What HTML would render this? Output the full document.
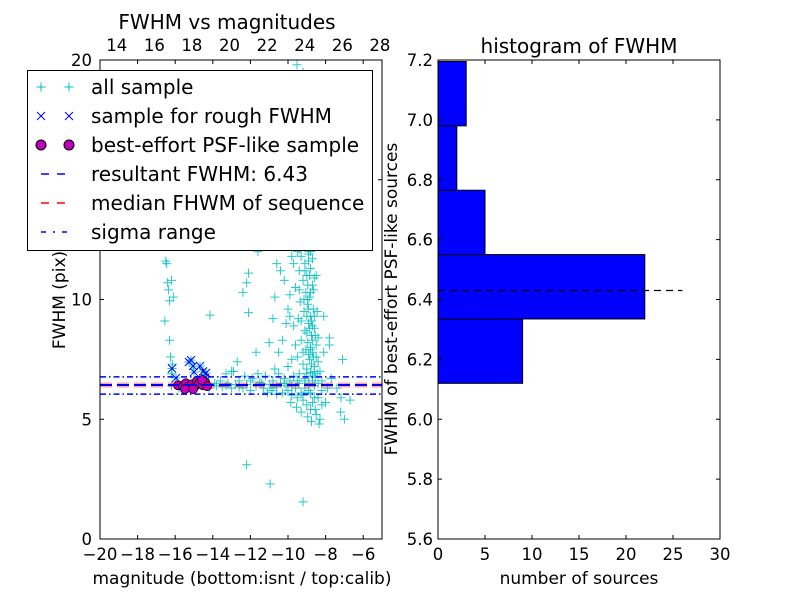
<!DOCTYPE html>
<html><head><meta charset="utf-8"><style>
body{margin:0;background:#fff}
svg{font-family:"DejaVu Sans","Liberation Sans",sans-serif}
</style></head><body>
<svg id="s" width="800" height="600" xmlns="http://www.w3.org/2000/svg"></svg>
<script>
const allSample=[[-16.2,6.4],[-15.8,6.3],[-14.2,6.3],[-13.8,6.4],[-13.5,6.35],[-13.2,6.5],[-13.0,6.3],[-12.8,6.45],[-12.6,6.6],[-12.4,6.3],[-12.2,6.45],[-12.0,6.2],[-11.9,6.7],[-11.7,6.4],[-11.5,6.55],[-11.3,6.3],[-11.2,6.8],[-11.0,6.45],[-10.9,6.2],[-10.8,6.6],[-10.6,6.35],[-10.5,6.9],[-10.4,6.5],[-10.3,6.1],[-10.2,6.7],[-10.1,6.4],[-10.0,6.2],[-9.9,6.6],[-9.8,6.0],[-9.7,6.8],[-9.6,6.3],[-9.5,5.9],[-9.4,6.5],[-9.3,6.1],[-9.2,5.8],[-9.1,6.6],[-9.0,5.6],[-8.9,6.2],[-8.8,5.4],[-8.7,6.8],[-8.6,5.9],[-8.5,5.2],[-8.4,6.5],[-8.3,5.0],[-8.2,6.2],[-8.0,5.7],[-7.9,6.3],[-7.7,6.7],[-7.4,6.3],[-7.0,5.0],[-6.7,5.8],[-7.2,5.3],[-11.6,6.9],[-12.9,7.0],[-10.7,7.1],[-13.6,6.6],[-12.3,6.8],[-11.1,6.1],[-10.6,6.05],[-9.85,5.7],[-9.55,5.5],[-9.3,5.3],[-8.95,5.1],[-8.75,4.9],[-8.55,5.4],[-8.35,4.8],[-8.2,5.6],
[-12.2,3.1],[-10.95,2.3],[-9.2,1.55],[-7.18,5.9],[-7.8,8.1],[-7.1,7.5],
[-16.45,11.5],[-16.4,10.7],[-16.35,10.4],[-16.3,9.95],[-16.1,10.1],[-16.55,9.1],[-16.3,8.3],[-16.25,7.6],[-16.15,7.3],[-16.2,6.9],[-16.5,11.6],[-16.2,10.8],
[-14.15,9.35],[-12.1,9.45],[-12.2,10.7],[-12.4,10.3],[-12.1,11.1],[-11.7,7.8],[-13.0,7.0],[-13.3,6.9],[-12.7,7.4],[-10.5,7.8],[-10.3,8.3],[-10.1,9.0],[-10.0,9.6],[-9.9,10.2],[-10.2,10.8],[-10.4,11.2],[-10.6,11.5],[-9.8,11.8],[-11.0,8.2],[-10.8,9.2],[-10.7,10.1],
[-9.5,12.0],[-9.3,11.8],[-9.1,11.5],[-8.9,11.9],[-9.4,11.2],[-9.0,11.0],[-8.8,11.3],[-9.2,10.8],[-8.7,10.6],[-9.6,10.5],[-9.05,10.3],[-8.85,10.1],[-9.35,9.9],[-8.95,9.8],[-8.65,9.6],[-9.15,9.5],[-8.8,9.3],[-9.45,9.2],[-8.9,9.0],[-8.6,8.8],[-9.1,8.7],[-8.75,8.5],[-9.3,8.3],[-8.95,8.2],[-8.5,8.1],[-9.05,7.9],[-8.7,7.8],[-9.5,7.6],[-8.85,7.5],[-8.4,7.4],[-9.2,7.3],[-8.6,7.2],[-9.0,7.1],[-8.3,7.0],[-8.8,6.95],[-9.4,6.9],[-8.55,6.75],[-9.1,6.7],[-8.2,6.6],[-9.7,8.9],[-9.8,7.5],[-10.0,7.2],[-9.6,8.1],[-8.9,12.3],[-9.25,12.5],[-8.7,8.9],[-8.8,7.9],[-9.0,8.6],[-8.65,10.4],[-9.15,10.0],[-8.4,8.4],[-8.45,9.5],[-8.9,6.5],[-9.2,6.0],[-8.1,7.8],[-7.8,8.4],[-8.1,9.3],[-8.5,11.0],[-9.7,11.5],[-9.9,9.3],[-10.3,12.3],[-9.6,12.6],[-8.6,12.2],[-9.0,12.8],[-9.3,13.0],
[-8.9,11.6],[-8.85,11.0],[-8.95,10.6],[-8.8,10.3],[-8.9,9.6],[-8.75,9.1],[-8.85,8.8],[-8.7,8.3],[-8.8,8.0],[-8.65,7.6],[-8.75,7.3],[-8.6,7.0],[-8.7,6.6],[-8.9,7.7],[-9.0,9.3],[-8.95,10.0],[-8.6,9.3],[-8.55,8.5],[-8.5,7.6],[-8.45,6.9],[-9.1,6.3],[-8.8,6.1],[-8.6,6.4],[-8.4,5.9],[-8.7,5.7],[-9.0,6.9],[-9.2,7.8],[-9.3,9.1],[-9.4,10.4],[-9.1,11.2],[-8.8,12.0],[-9.0,12.4],[-8.7,11.7],[-8.6,10.9],[-9.5,6.6],[-9.8,6.4],[-10.2,6.5],[-10.8,6.3],[-11.4,6.5],[-12.0,6.6],[-12.6,6.35],[-13.3,6.4],[-13.9,6.5],[-14.6,6.45],
[-9.52,19.8],[-9.2,19.5],[-10.8,12.2],[-11.6,12.0],[-9.4,12.1],[-8.9,12.0],
[-16.17,7.12],[-15.27,7.39],[-15.16,7.47],[-15.05,7.22],[-14.68,7.22],[-14.52,7.0],[-14.36,6.93],[-14.41,6.72],[-15.0,6.97],[-15.96,6.72]];
const roughMag=[-16.17,-15.27,-15.16,-15.05,-14.68,-14.52,-14.36,-14.41,-15.0,-15.96];
const roughFwhm=[7.12,7.39,7.47,7.22,7.22,7.0,6.93,6.72,6.97,6.72];
const psfMag=[-15.85,-15.59,-15.43,-15.27,-15.1,-14.95,-14.84,-14.73,-14.52,-14.41,-14.3,-15.48,-15.05,-14.57];
const psfFwhm=[6.42,6.38,6.5,6.38,6.46,6.38,6.6,6.5,6.42,6.55,6.38,6.26,6.26,6.64];
const resultFwhm=6.43, medianFwhm=6.43, sigmaLow=6.05, sigmaHigh=6.77;
const histEdges=[6.12,6.335,6.55,6.765,6.98,7.195];
const histCounts=[9,22,5,2,3];
const xTicksL=[-20,-18,-16,-14,-12,-10,-8,-6];
const xTicksTop=[14,16,18,20,22,24,26,28];
const yTicksL=[0,5,10,15,20];
const yTicksR=[5.6,5.8,6.0,6.2,6.4,6.6,6.8,7.0,7.2];
const xTicksR=[0,5,10,15,20,25,30];

const S=document.getElementById('s'),NS='http://www.w3.org/2000/svg';
function el(t,a,p){const e=document.createElementNS(NS,t);for(const k in a)e.setAttribute(k,a[k]);(p||S).appendChild(e);return e;}
function tx(x,y,s,a,p){const e=el('text',Object.assign({x:x,y:y,'font-size':16.5,fill:'#000'},a||{}),p);e.textContent=s;return e;}
const L={x0:100,x1:382,y0:60,y1:539};
const xL=m=>L.x0+(m+20)/15*(L.x1-L.x0);
const xTop=c=>xL(c-33.11);
const yL=f=>L.y1-f/20*(L.y1-L.y0);
const cp=el('clipPath',{id:'cl'});el('rect',{x:L.x0,y:L.y0,width:L.x1-L.x0,height:L.y1-L.y0},cp);
const gL=el('g',{'clip-path':'url(#cl)'});

let e;
allSample.forEach(p=>{const x=xL(p[0]),y=yL(p[1]);
 e=el('path',{d:`M${x-4.5},${y}h9M${x},${y-4.5}v9`,stroke:'#00bfbf','stroke-width':1,'stroke-opacity':0.85},gL);
 });
roughMag.forEach((m,i)=>{const x=xL(m),y=yL(roughFwhm[i]);
 e=el('path',{d:`M${x-4},${y-4}l8,8M${x-4},${y+4}l8,-8`,stroke:'#0000ff','stroke-width':1},gL);
 });
psfMag.forEach((m,i)=>{e=el('circle',{cx:xL(m),cy:yL(psfFwhm[i]),r:4.5,fill:'#bf00bf',stroke:'#000','stroke-width':0.8},gL);
 });
e=el('line',{x1:L.x0,x2:L.x1,y1:yL(medianFwhm),y2:yL(medianFwhm),stroke:'#ff0000','stroke-opacity':0.35,'stroke-width':5,'stroke-dasharray':'12 5'},gL);

e=el('line',{x1:L.x0,x2:L.x1,y1:yL(resultFwhm),y2:yL(resultFwhm),stroke:'#0000ff','stroke-width':2,'stroke-dasharray':'12 5'},gL);

[sigmaLow,sigmaHigh].forEach(v=>{e=el('line',{x1:L.x0,x2:L.x1,y1:yL(v),y2:yL(v),stroke:'#0000ff','stroke-width':1.5,'stroke-dasharray':'6 3 1.5 3'},gL);
 });
e=el('rect',{x:L.x0,y:L.y0,width:L.x1-L.x0,height:L.y1-L.y0,fill:'none',stroke:'#000'});

xTicksL.forEach(v=>{const x=xL(v);el('path',{d:`M${x},${L.y1}v-4M${x},${L.y0}v4`,stroke:'#000'});
 e=tx(x,L.y1+21,v<0?'\u2212'+(-v):''+v,{'text-anchor':'middle'});});
xTicksTop.forEach(v=>{const x=xTop(v);
 e=tx(x,L.y0-9,''+v,{'text-anchor':'middle'});});
yTicksL.forEach(v=>{const y=yL(v);el('path',{d:`M${L.x0},${y}h4M${L.x1},${y}h-4`,stroke:'#000'});
 e=tx(L.x0-8,y+6,''+v,{'text-anchor':'end'});});
e=tx(227,29,'FWHM vs magnitudes',{'text-anchor':'middle','font-size':20});
e=tx(242,584,'magnitude (bottom:isnt / top:calib)',{'text-anchor':'middle','font-size':17});
e=tx(0,0,'FWHM (pix)',{'text-anchor':'middle','font-size':17,transform:'translate(65,300) rotate(-90)'});
const lg=el('g',{});
el('rect',{x:27.5,y:70.5,width:345,height:180,fill:'#fff',stroke:'#000'},lg);
const labels=['all sample','sample for rough FWHM','best-effort PSF-like sample','resultant FWHM: 6.43','median FHWM of sequence','sigma range'];
labels.forEach((s,i)=>{const y=87+i*29;
 if(i==0)[41,69].forEach(x=>el('path',{d:`M${x-4.5},${y}h9M${x},${y-4.5}v9`,stroke:'#00bfbf'},lg));
 if(i==1)[41,69].forEach(x=>el('path',{d:`M${x-4},${y-4}l8,8M${x-4},${y+4}l8,-8`,stroke:'#0000ff'},lg));
 if(i==2)[41,69].forEach(x=>el('circle',{cx:x,cy:y,r:5,fill:'#bf00bf',stroke:'#000'},lg));
 if(i==3)el('line',{x1:41,x2:69,y1:y,y2:y,stroke:'#0000ff','stroke-width':1.5,'stroke-dasharray':'8 8'},lg);
 if(i==4)el('line',{x1:41,x2:69,y1:y,y2:y,stroke:'#ff0000','stroke-width':1.5,'stroke-dasharray':'8 8'},lg);
 if(i==5)el('line',{x1:41,x2:69,y1:y,y2:y,stroke:'#0000ff','stroke-width':1.5,'stroke-dasharray':'5 7 2 7'},lg);
 const t=tx(91,y+7,s,{'font-size':20},lg);});
const R={x0:438,x1:720,y0:60,y1:539};
const xR=c=>R.x0+c/30*(R.x1-R.x0);
const yR=f=>R.y1-(f-5.6)/1.6*(R.y1-R.y0);
histCounts.forEach((c,i)=>{e=el('rect',{x:xR(0),y:yR(histEdges[i+1]),width:xR(c)-xR(0),height:yR(histEdges[i])-yR(histEdges[i+1]),fill:'#0000ff',stroke:'#000'});
 });
e=el('line',{x1:xR(0),x2:xR(26),y1:yR(resultFwhm),y2:yR(resultFwhm),stroke:'#000','stroke-width':1.2,'stroke-dasharray':'7 5'});

e=el('rect',{x:R.x0,y:R.y0,width:R.x1-R.x0,height:R.y1-R.y0,fill:'none',stroke:'#000'});

xTicksR.forEach(v=>{const x=xR(v);el('path',{d:`M${x},${R.y1}v-4M${x},${R.y0}v4`,stroke:'#000'});
 e=tx(x,R.y1+21,''+v,{'text-anchor':'middle'});});
yTicksR.forEach(v=>{const y=yR(v);el('path',{d:`M${R.x0},${y}h4M${R.x1},${y}h-4`,stroke:'#000'});
 e=tx(R.x0-5,y+6,v.toFixed(1),{'text-anchor':'end'});});
e=tx(579,53,'histogram of FWHM',{'text-anchor':'middle','font-size':20});
e=tx(579,584,'number of sources',{'text-anchor':'middle','font-size':17});
e=tx(0,0,'FWHM of best-effort PSF-like sources',{'text-anchor':'middle','font-size':17,transform:'translate(397,299) rotate(-90)'});
</script>
</body></html>
